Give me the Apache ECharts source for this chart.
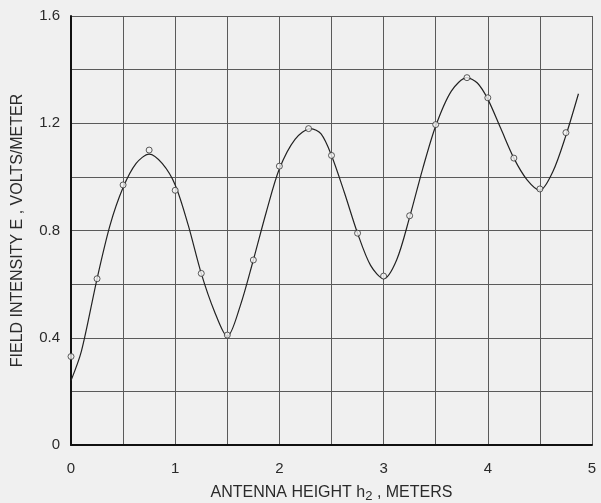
<!DOCTYPE html>
<html>
<head>
<meta charset="utf-8">
<script src="https://cdn.jsdelivr.net/npm/echarts@6/dist/echarts.min.js"></script>
<style>
  html, body { margin: 0; padding: 0; background: #f0f0f0; }
  #chart { width: 601px; height: 503px; }
</style>
</head>
<body>
<div id="chart"></div>
<script>
// Measured points (circles)
const pointX = [0, 0.25, 0.5, 0.75, 1.0, 1.25, 1.5, 1.75, 2.0, 2.28, 2.5, 2.75, 3.0, 3.25, 3.5, 3.8, 4.0, 4.25, 4.5, 4.75];
const pointY = [0.33, 0.62, 0.97, 1.10, 0.95, 0.64, 0.41, 0.69, 1.04, 1.18, 1.08, 0.79, 0.63, 0.855, 1.195, 1.37, 1.295, 1.07, 0.955, 1.165];

// Smooth fitted curve
const curveX = [0, 0.1, 0.25, 0.375, 0.5, 0.625, 0.75, 0.875, 1.0, 1.125, 1.25, 1.375, 1.5,
                1.625, 1.75, 1.875, 2.0, 2.15, 2.3, 2.4, 2.5, 2.625, 2.75, 2.875, 3.0,
                3.125, 3.25, 3.375, 3.5, 3.65, 3.8, 3.9, 4.0, 4.125, 4.25, 4.375, 4.5,
                4.625, 4.75, 4.87];
const curveY = [0.24, 0.35, 0.62, 0.82, 0.96, 1.05, 1.085, 1.05, 0.97, 0.82, 0.64, 0.50, 0.405,
                0.52, 0.69, 0.87, 1.03, 1.14, 1.18, 1.16, 1.08, 0.94, 0.79, 0.67, 0.62,
                0.69, 0.85, 1.03, 1.19, 1.32, 1.37, 1.35, 1.29, 1.18, 1.07, 0.99, 0.95,
                1.02, 1.155, 1.31];

const xTickLabels = ['0', '1', '2', '3', '4', '5'];
const yTickLabels = ['0', '0.4', '0.8', '1.2', '1.6'];

const font = 'Liberation Sans';
const ink = '#2a2a2a';

const chart = echarts.init(document.getElementById('chart'), null, { renderer: 'canvas' });

chart.setOption({
  backgroundColor: '#f0f0f0',
  animation: false,
  grid: { left: 71, right: 9, top: 16, bottom: 58, containLabel: false, outerBoundsMode: 'none' },
  xAxis: {
    type: 'value', min: 0, max: 5, interval: 0.5,
    axisLine: { show: true, onZero: false, lineStyle: { color: '#111', width: 2 } },
    axisTick: { show: false },
    splitLine: { show: true, lineStyle: { color: '#5a5a5a', width: 1 } },
    axisLabel: {
      margin: 16, color: ink, fontFamily: font, fontSize: 15,
      formatter: v => Number.isInteger(v) ? xTickLabels[v] : ''
    },
    name: 'ANTENNA HEIGHT h{sub|2} , METERS',
    nameLocation: 'middle', nameGap: 37,
    nameTextStyle: {
      color: ink, fontFamily: font, fontSize: 16,
      rich: { sub: { fontSize: 13, verticalAlign: 'bottom', padding: [8, 0, 0, 0], color: ink, fontFamily: font } }
    }
  },
  yAxis: {
    type: 'value', min: 0, max: 1.6, interval: 0.2,
    axisLine: { show: true, onZero: false, lineStyle: { color: '#111', width: 2 } },
    axisTick: { show: false },
    splitLine: { show: true, lineStyle: { color: '#5a5a5a', width: 1 } },
    axisLabel: {
      margin: 11, color: ink, fontFamily: font, fontSize: 15,
      formatter: v => {
        const k = Math.round(v * 10);
        return k % 4 === 0 ? yTickLabels[k / 4] : '';
      }
    },
    name: 'FIELD INTENSITY E , VOLTS/METER',
    nameLocation: 'middle', nameGap: 45,
    nameTextStyle: { color: ink, fontFamily: font, fontSize: 16 }
  },
  series: [
    {
      type: 'line',
      data: curveX.map((x, i) => [x, curveY[i]]),
      smooth: 0.3,
      showSymbol: false,
      lineStyle: { color: '#222', width: 1.2 },
      z: 3
    },
    {
      type: 'scatter',
      data: pointX.map((x, i) => [x, pointY[i]]),
      symbol: 'circle',
      symbolSize: 6,
      itemStyle: { color: '#f4f4f4', borderColor: '#333', borderWidth: 1 },
      z: 4
    }
  ]
});
</script>
</body>
</html>
